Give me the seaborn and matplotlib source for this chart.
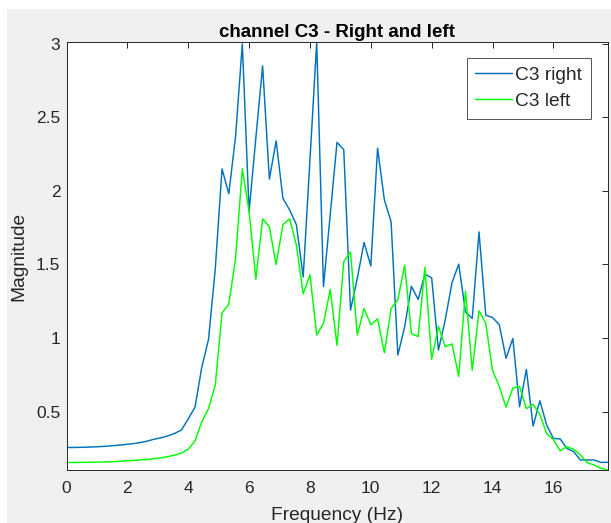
import numpy as np
import pandas as pd
import matplotlib
matplotlib.use("Agg")
import matplotlib.pyplot as plt
import seaborn as sns
from matplotlib.patches import Rectangle

# 81 frequency bins, 2/9 Hz apart (0 .. 17.78 Hz)
freq_hz = np.arange(81) * 2 / 9

c3_right = [
    0.256, 0.256, 0.257, 0.258, 0.260, 0.262, 0.265, 0.269, 0.273, 0.278,
    0.283, 0.290, 0.300, 0.313, 0.322, 0.335, 0.352, 0.375, 0.450, 0.530,
    0.800, 0.990, 1.470, 2.150, 1.980, 2.370, 3.000, 1.860, 2.360, 2.850,
    2.080, 2.340, 1.950, 1.870, 1.770, 1.415, 2.210, 3.010, 1.350, 1.840,
    2.330, 2.280, 1.190, 1.405, 1.650, 1.490, 2.290, 1.940, 1.790, 0.884,
    1.076, 1.352, 1.262, 1.434, 1.409, 0.918, 1.122, 1.375, 1.502, 1.178,
    1.133, 1.721, 1.155, 1.140, 1.090, 0.862, 0.997, 0.533, 0.787, 0.402,
    0.574, 0.409, 0.318, 0.314, 0.250, 0.227, 0.171, 0.171, 0.171, 0.155,
    0.155,
]

c3_left = [
    0.154, 0.154, 0.155, 0.155, 0.156, 0.157, 0.158, 0.160, 0.162, 0.165,
    0.168, 0.171, 0.175, 0.180, 0.186, 0.194, 0.204, 0.218, 0.245, 0.300,
    0.430, 0.520, 0.680, 1.170, 1.230, 1.540, 2.150, 1.860, 1.400, 1.810,
    1.755, 1.500, 1.770, 1.810, 1.630, 1.300, 1.430, 1.020, 1.100, 1.330,
    0.950, 1.520, 1.585, 1.020, 1.200, 1.090, 1.130, 0.900, 1.200, 1.260,
    1.495, 1.030, 1.010, 1.480, 0.855, 1.080, 0.940, 0.960, 0.740, 1.320,
    0.780, 1.185, 1.100, 0.780, 0.670, 0.530, 0.660, 0.670, 0.520, 0.550,
    0.480, 0.350, 0.310, 0.234, 0.261, 0.244, 0.205, 0.153, 0.137, 0.115,
    0.103,
]

series_names = ["C3 right", "C3 left"]
series_colors = {"C3 right": "#0072BD", "C3 left": "#00FF00"}

x_ticks = [0, 2, 4, 6, 8, 10, 12, 14, 16]
y_ticks = [0.5, 1, 1.5, 2, 2.5, 3]
y_tick_labels = ["0.5", "1", "1.5", "2", "2.5", "3"]

df = pd.DataFrame({
    "Frequency": np.concatenate([freq_hz, freq_hz]),
    "Magnitude": c3_right + c3_left,
    "Channel": [series_names[0]] * len(c3_right) + [series_names[1]] * len(c3_left),
})

sns.set_style("white")
plt.rcParams["font.family"] = ["Liberation Sans", "DejaVu Sans"]

fig = plt.figure(figsize=(6.11, 5.23), dpi=100, facecolor="#F0F0F0")
ax = fig.add_axes([66.5 / 611, 1 - 470 / 523, (607.5 - 66.5) / 611, (470 - 42.3) / 523])

# white strips of the screenshot (left and top edges)
fig.add_artist(Rectangle((0, 0), 7 / 611, 1, transform=fig.transFigure,
                         facecolor="white", edgecolor="none", zorder=-1))
fig.add_artist(Rectangle((0, 1 - 9 / 523), 1, 9 / 523, transform=fig.transFigure,
                         facecolor="white", edgecolor="none", zorder=-1))

sns.lineplot(data=df, x="Frequency", y="Magnitude", hue="Channel",
             palette=series_colors, estimator=None, linewidth=1.05, ax=ax)

ax.set_xlim(freq_hz[0], freq_hz[-1])
ax.set_ylim(min(c3_left), max(c3_right))
ax.set_xticks(x_ticks)
ax.set_xticklabels([str(t) for t in x_ticks])
ax.set_yticks(y_ticks)
ax.set_yticklabels(y_tick_labels)

ax.tick_params(direction="in", length=4, width=0.7, colors="#262626",
               labelsize=12.5, top=True, right=True)
ax.tick_params(axis="x", pad=8)
ax.tick_params(axis="y", pad=4.5)
for side in ax.spines.values():
    side.set_color("#262626")
    side.set_linewidth(0.7)

ax.set_title("channel C3 - Right and left", fontsize=13.5, fontweight="bold",
             color="black", pad=4)
ax.set_xlabel("Frequency (Hz)", fontsize=13.8, color="#262626", labelpad=8)
ax.set_ylabel("Magnitude", fontsize=13.8, color="#262626", labelpad=6)

handles, labels = ax.get_legend_handles_labels()
leg = ax.legend(handles, labels, loc="upper right", bbox_to_anchor=(0.9695, 0.963),
                borderaxespad=0, fontsize=13.8, frameon=True, fancybox=False,
                edgecolor="#262626", handlelength=1.9, handletextpad=0.2,
                labelspacing=0.45, borderpad=0.45)
leg.get_frame().set_linewidth(0.7)

fig.savefig("out.png", dpi=100, facecolor=fig.get_facecolor())
